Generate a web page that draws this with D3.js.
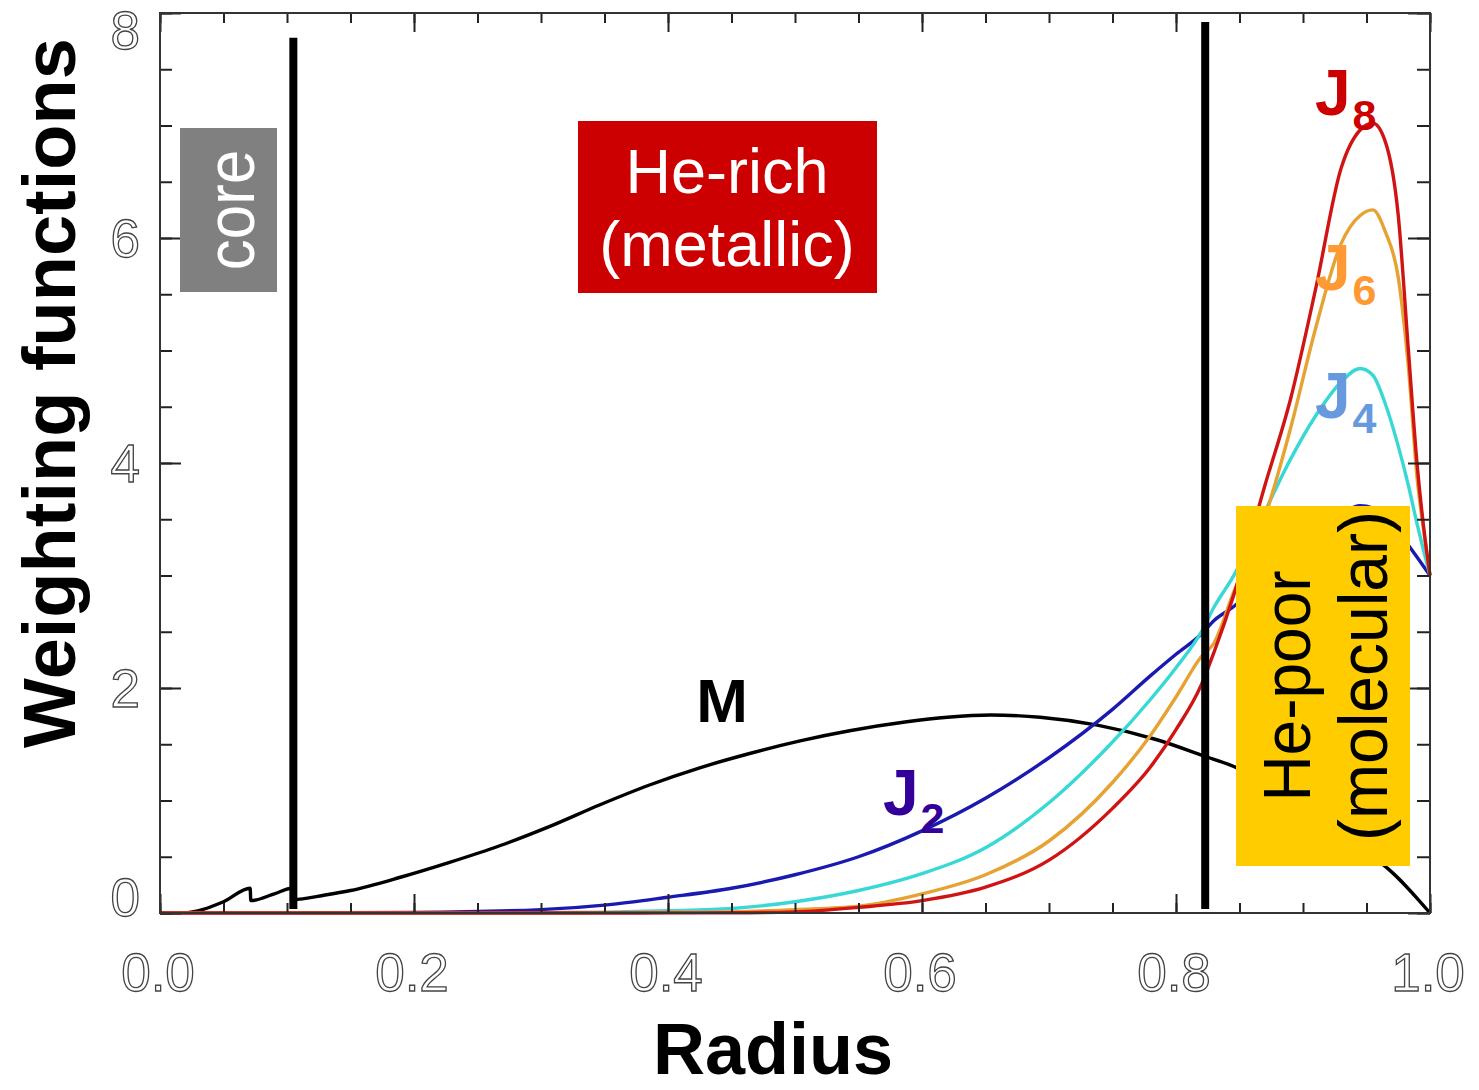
<!DOCTYPE html>
<html>
<head>
<meta charset="utf-8">
<script src="https://cdn.jsdelivr.net/npm/d3@7"></script>
<style>
  body { margin: 0; background: #fff; }
  svg { display: block; }
</style>
</head>
<body>
<svg id="chart" width="1479" height="1090"></svg>
<script>
// ---- Data: gravity-moment weighting functions vs. normalised radius ----
const radiusJ = [0, 0.10, 0.20, 0.30, 0.35, 0.40, 0.45, 0.50, 0.55, 0.60, 0.65, 0.70, 0.75, 0.78, 0.80,
                 0.82, 0.83, 0.845, 0.87, 0.89, 0.91, 0.93, 0.945, 0.955, 0.965, 0.975, 0.983, 0.99, 0.995, 1.0];
const weightJ2 = [0, 0, 0.005, 0.03, 0.07, 0.14, 0.22, 0.34, 0.50, 0.73, 1.02, 1.38, 1.81, 2.11, 2.30,
                  2.48, 2.60, 2.72, 2.98, 3.20, 3.40, 3.55, 3.62, 3.60, 3.52, 3.40, 3.27, 3.16, 3.08, 3.0];
const weightJ4 = [0, 0, 0, 0.003, 0.008, 0.02, 0.04, 0.10, 0.20, 0.35, 0.58, 0.98, 1.52, 1.90, 2.18,
                  2.50, 2.72, 2.99, 3.57, 4.03, 4.42, 4.72, 4.84, 4.78, 4.52, 4.15, 3.80, 3.45, 3.22, 3.0];
const weightJ6 = [0, 0, 0, 0, 0.001, 0.004, 0.01, 0.03, 0.06, 0.17, 0.34, 0.64, 1.16, 1.58, 1.92,
                  2.28, 2.40, 2.84, 3.52, 4.30, 5.20, 5.95, 6.20, 6.25, 6.05, 5.65, 4.85, 3.85, 3.40, 3.0];
const weightJ8 = [0, 0, 0, 0, 0, 0.001, 0.002, 0.01, 0.05, 0.11, 0.23, 0.47, 0.93, 1.30, 1.63,
                  2.03, 2.32, 2.81, 3.80, 4.56, 5.55, 6.62, 6.96, 7.02, 6.85, 6.20, 5.00, 3.97, 3.43, 3.0];

// mass weighting, with its steps at the inner composition jumps
const radiusM = [0, 0.018, 0.05, 0.071, 0.0715, 0.09, 0.104, 0.1045, 0.13, 0.15, 0.19, 0.228, 0.268, 0.307,
                 0.346, 0.386, 0.425, 0.465, 0.504, 0.543, 0.588, 0.62, 0.654, 0.693, 0.738, 0.785, 0.821,
                 0.848, 0.88, 0.92, 0.95, 0.963, 1.0];
const weightM = [0, 0, 0.10, 0.22, 0.11, 0.17, 0.22, 0.12, 0.16, 0.20, 0.32, 0.45, 0.60, 0.77,
                 0.96, 1.14, 1.29, 1.42, 1.53, 1.62, 1.70, 1.74, 1.76, 1.74, 1.67, 1.54, 1.40,
                 1.29, 1.08, 0.78, 0.53, 0.43, 0];

const xTickValues = [0, 0.2, 0.4, 0.6, 0.8, 1.0];
const yTickValues = [0, 2, 4, 6, 8];

// layer boundaries: core edge and the He-rich / He-poor transition
const boundaryRadius = [0.105, 0.823];
const boundaryTop = [7.78, 7.92];
const boundaryBottom = 0.035;

// ---- Layout ----
const svg = d3.select('#chart');
const x = d3.scaleLinear().domain([0, 1]).range([160, 1430]);
const y = d3.scaleLinear().domain([0, 8]).range([913, 13]);

const seriesJ = [
  { name: 'J2', values: weightJ2, color: '#1a1ab0' },
  { name: 'J4', values: weightJ4, color: '#38d8d6' },
  { name: 'J6', values: weightJ6, color: '#e6a232' },
  { name: 'J8', values: weightJ8, color: '#d01414' }
];

const line = d3.line()
  .x(d => x(d[0]))
  .y(d => y(d[1]))
  .curve(d3.curveMonotoneX);

// curves
const curves = svg.append('g').attr('fill', 'none').attr('stroke-width', 3.4)
  .attr('stroke-linejoin', 'round');
curves.append('path')
  .attr('d', line(radiusM.map((r, i) => [r, weightM[i]])))
  .attr('stroke', '#000');
seriesJ.forEach(s => {
  curves.append('path')
    .attr('d', line(radiusJ.map((r, i) => [r, s.values[i]])))
    .attr('stroke', s.color);
});

// frame and inward ticks on all four sides
const frame = svg.append('g').attr('class', 'frame');
const xMinor = d3.range(0, 1.0001, 0.05);
const yMinor = d3.range(0, 8.0001, 0.5);
function styleAxis(g) {
  g.select('.domain').remove();
  g.selectAll('.tick text').remove();
  g.selectAll('.tick line').attr('stroke', '#222').attr('stroke-width', 2);
}
frame.append('g').attr('transform', `translate(0,${y(0)})`)
  .call(d3.axisBottom(x).tickValues(xMinor).tickSize(-10)).call(styleAxis);
frame.append('g').attr('transform', `translate(0,${y(0)})`)
  .call(d3.axisBottom(x).tickValues(xTickValues).tickSize(-19)).call(styleAxis);
frame.append('g').attr('transform', `translate(0,${y(8)})`)
  .call(d3.axisTop(x).tickValues(xMinor).tickSize(-10)).call(styleAxis);
frame.append('g').attr('transform', `translate(0,${y(8)})`)
  .call(d3.axisTop(x).tickValues(xTickValues).tickSize(-19)).call(styleAxis);
frame.append('g').attr('transform', `translate(${x(0)},0)`)
  .call(d3.axisLeft(y).tickValues(yMinor).tickSize(-12)).call(styleAxis);
frame.append('g').attr('transform', `translate(${x(0)},0)`)
  .call(d3.axisLeft(y).tickValues(yTickValues).tickSize(-21)).call(styleAxis);
frame.append('g').attr('transform', `translate(${x(1)},0)`)
  .call(d3.axisRight(y).tickValues(yMinor).tickSize(-13)).call(styleAxis);
frame.append('g').attr('transform', `translate(${x(1)},0)`)
  .call(d3.axisRight(y).tickValues(yTickValues).tickSize(-22)).call(styleAxis);
frame.append('rect')
  .attr('x', x(0)).attr('y', y(8))
  .attr('width', x(1) - x(0)).attr('height', y(0) - y(8))
  .attr('fill', 'none').attr('stroke', '#333').attr('stroke-width', 2);

// hollow tick labels
const tickFont = { family: 'Liberation Sans, Arial, sans-serif', size: 53 };
svg.append('g').selectAll('text').data(xTickValues).join('text')
  .attr('x', d => x(d) - 2)
  .attr('y', 991)
  .attr('text-anchor', 'middle')
  .attr('font-family', tickFont.family).attr('font-size', tickFont.size)
  .attr('fill', '#fff').attr('stroke', '#444').attr('stroke-width', 1.3)
  .text(d3.format('.1f'));
svg.append('g').selectAll('text').data(yTickValues).join('text')
  .attr('x', 140)
  .attr('y', d => Math.min(Math.max(y(d), 30), 897) + 19)
  .attr('text-anchor', 'end')
  .attr('font-family', tickFont.family).attr('font-size', tickFont.size)
  .attr('fill', '#fff').attr('stroke', '#444').attr('stroke-width', 1.3)
  .text(d => d);

// axis titles
const boldFont = 'Liberation Sans, Arial, Helvetica, sans-serif';
svg.append('text')
  .attr('transform', 'translate(75,393) rotate(-90)')
  .attr('text-anchor', 'middle')
  .attr('font-family', boldFont).attr('font-weight', 'bold').attr('font-size', 74)
  .text('Weighting functions');
svg.append('text')
  .attr('x', 773).attr('y', 1074)
  .attr('text-anchor', 'middle')
  .attr('font-family', boldFont).attr('font-weight', 'bold').attr('font-size', 72)
  .text('Radius');

// layer boundaries
svg.append('g').selectAll('line').data(boundaryRadius).join('line')
  .attr('x1', d => x(d)).attr('x2', d => x(d))
  .attr('y1', (d, i) => y(boundaryTop[i])).attr('y2', y(boundaryBottom))
  .attr('stroke', '#000').attr('stroke-width', 8);

// region boxes
const boxes = svg.append('g').attr('font-family', boldFont);
boxes.append('rect').attr('x', 180).attr('y', 128).attr('width', 97).attr('height', 164).attr('fill', '#808080');
boxes.append('text')
  .attr('transform', 'translate(254,210) rotate(-90) scale(1,1.12)')
  .attr('text-anchor', 'middle').attr('font-size', 62).attr('fill', '#fff')
  .text('core');

boxes.append('rect').attr('x', 578).attr('y', 121).attr('width', 299).attr('height', 172).attr('fill', '#cc0000');
boxes.append('text')
  .attr('x', 727).attr('y', 193)
  .attr('text-anchor', 'middle').attr('font-size', 63).attr('fill', '#fff')
  .text('He-rich');
boxes.append('text')
  .attr('x', 727).attr('y', 266)
  .attr('text-anchor', 'middle').attr('font-size', 63).attr('fill', '#fff')
  .text('(metallic)');

boxes.append('rect').attr('x', 1236).attr('y', 506).attr('width', 174).attr('height', 360).attr('fill', '#ffcc00');
boxes.append('text')
  .attr('transform', 'translate(1310,686) rotate(-90) scale(1,1.05)')
  .attr('text-anchor', 'middle').attr('font-size', 64).attr('fill', '#000')
  .text('He-poor');
boxes.append('text')
  .attr('transform', 'translate(1387,676) rotate(-90) scale(1,1.05)')
  .attr('text-anchor', 'middle').attr('font-size', 66).attr('fill', '#000')
  .text('(molecular)');

// curve labels
const labels = svg.append('g').attr('font-family', boldFont).attr('font-weight', 'bold');
labels.append('text')
  .attr('x', 722).attr('y', 722)
  .attr('text-anchor', 'middle').attr('font-size', 62)
  .text('M');
const curveLabels = [
  { main: 'J', sub: '2', x: 883, y: 815, subY: 833, color: '#330099' },
  { main: 'J', sub: '4', x: 1315, y: 418, subY: 433, color: '#6699dd' },
  { main: 'J', sub: '6', x: 1315, y: 290, subY: 305, color: '#ff9933' },
  { main: 'J', sub: '8', x: 1315, y: 115, subY: 130, color: '#cc0000' }
];
curveLabels.forEach(c => {
  const t = labels.append('text').attr('x', c.x).attr('y', c.y).attr('fill', c.color);
  t.append('tspan').attr('font-size', 64).text(c.main);
  t.append('tspan').attr('font-size', 43).attr('dx', 2).attr('dy', c.subY - c.y).text(c.sub);
});
</script>
</body>
</html>
